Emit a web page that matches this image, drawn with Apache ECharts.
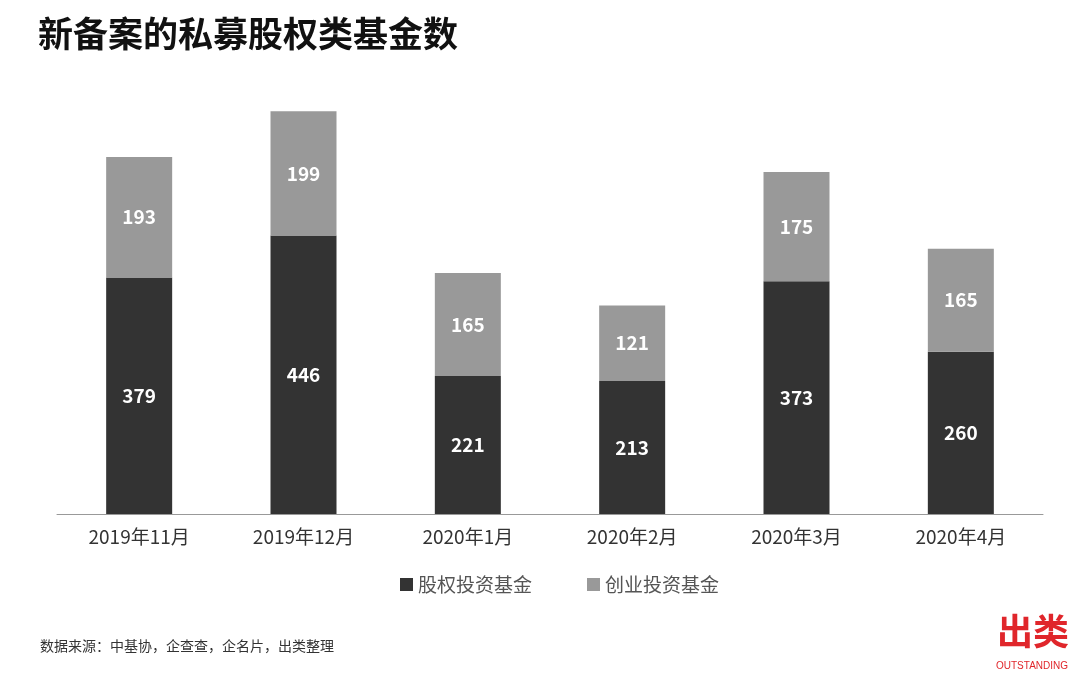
<!DOCTYPE html>
<html><head><meta charset="utf-8">
<script src="https://cdn.jsdelivr.net/npm/echarts@6/dist/echarts.min.js"></script>
<style>html,body{margin:0;padding:0;background:#fff;}#c{width:1080px;height:675px;}</style>
</head><body><div id="c"></div>
<script>
const categories = ['2019年11月','2019年12月','2020年1月','2020年2月','2020年3月','2020年4月'];
const equityFunds = [379, 446, 221, 213, 373, 260];
const ventureFunds = [193, 199, 165, 121, 175, 165];
const seriesNames = ['股权投资基金','创业投资基金'];
const font = '"Noto Sans CJK SC", "Microsoft YaHei", sans-serif';
const chart = echarts.init(document.getElementById('c'));
chart.setOption({
  backgroundColor:'#fff',
  textStyle:{fontFamily:font},
  title:[
    {text:'新备案的私募股权类基金数', left:33, top:11, textStyle:{fontFamily:font, fontSize:35, fontWeight:'bold', color:'#111'}},
    {text:'数据来源：中基协，企查查，企名片，出类整理', left:35, top:634, textStyle:{fontFamily:font, fontSize:14, fontWeight:'normal', color:'#333'}},
    {text:'出类', left:992, top:608, textStyle:{fontFamily:font, fontSize:36, fontWeight:'bold', color:'#e0262b'}},
    {text:'OUTSTANDING', left:991, top:656, textStyle:{fontFamily:'Liberation Sans, Arial, sans-serif', fontSize:10, fontWeight:'normal', color:'#e0262b'}}
  ],
  legend:{
    data:seriesNames, top:570, left:395, itemWidth:13, itemHeight:13, itemGap:55, icon:'rect',
    textStyle:{fontFamily:font, fontSize:19, color:'#555'}
  },
  grid:{left:57, right:37, top:77, height:437, containLabel:false},
  xAxis:{
    type:'category', data:categories,
    axisLine:{show:true, lineStyle:{color:'#999', width:1}},
    axisTick:{show:false},
    axisLabel:{fontFamily:font, fontSize:19, color:'#333', margin:13}
  },
  yAxis:{type:'value', min:0, max:700, show:false, splitLine:{show:false}},
  series:[
    {name:seriesNames[0], type:'bar', stack:'a', data:equityFunds, barWidth:66, itemStyle:{color:'#333333'},
     label:{show:true, position:'inside', color:'#fff', fontSize:19, fontWeight:'bold', fontFamily:font}},
    {name:seriesNames[1], type:'bar', stack:'a', data:ventureFunds, barWidth:66, itemStyle:{color:'#999999'},
     label:{show:true, position:'inside', color:'#fff', fontSize:19, fontWeight:'bold', fontFamily:font}}
  ]
});
</script></body></html>
